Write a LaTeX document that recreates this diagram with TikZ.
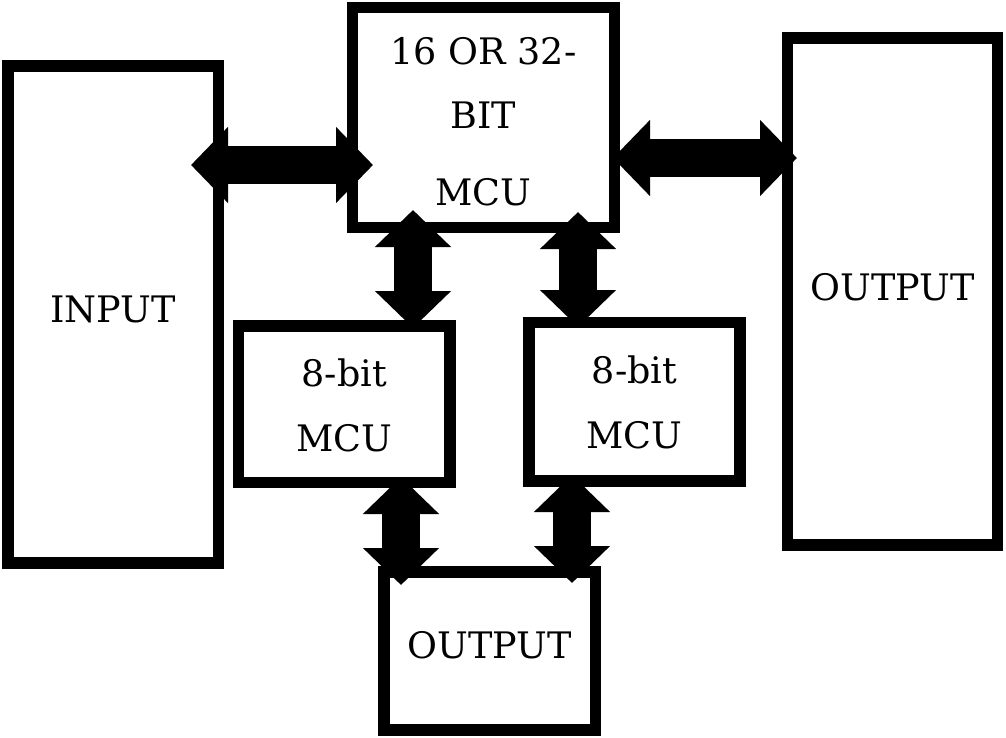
\documentclass[tikz,border=0pt]{standalone}
\usepackage{fontspec}
\setmainfont{DejaVu Serif}
\usetikzlibrary{arrows.meta}
\tikzset{
  blk/.style={draw=black, line width=11.5pt, rectangle, inner sep=0pt, outer sep=0pt,
    align=center, font=\fontsize{36.5}{65}\selectfont},
  bigarrow/.style={line width=38pt, draw=black,
    {Triangle[width=74pt,length=37pt]}-{Triangle[width=74pt,length=37pt]}}
}
\begin{document}
\begin{tikzpicture}[x=1pt,y=-1pt]
\useasboundingbox (0,0) rectangle (1006,738);
\node[blk, minimum width=210.5pt, minimum height=497pt, text height=30pt, text depth=15pt] (in) at (113.25,314.5) {INPUT};
\node[blk, minimum width=262pt, minimum height=220pt, text height=180pt, text depth=5pt,
  font=\fontsize{36.5}{63}\selectfont] (mcu) at (483.5,117.5) {16 OR 32-\\BIT\\[14pt]MCU};
\node[blk, minimum width=210pt, minimum height=507pt, text height=30pt, text depth=13pt] (outr) at (892.5,291.5) {OUTPUT};
\node[blk, minimum width=211.5pt, minimum height=156.5pt, text height=95pt, text depth=1.5pt] (m8l) at (344.25,404.25) {8-bit\\MCU};
\node[blk, minimum width=211pt, minimum height=158.5pt, text height=95pt, text depth=2.5pt] (m8r) at (634.5,401.75) {8-bit\\MCU};
\node[blk, minimum width=211.5pt, minimum height=158pt, text height=30pt, text depth=16pt] (outb) at (489.75,651) {OUTPUT};
% connectors
\draw[bigarrow] ([xshift=-27.5pt,yshift=149.5pt]in.east) -- ([xshift=20.5pt,yshift=-47.5pt]mcu.west);
\draw[bigarrow] ([xshift=-1.5pt,yshift=-40.5pt]mcu.east) -- ([xshift=9.5pt,yshift=133.5pt]outr.west);
\draw[bigarrow] ([xshift=-70.5pt,yshift=17.5pt]mcu.south) -- ([xshift=68.75pt,yshift=-2pt]m8l.north);
\draw[bigarrow] ([xshift=94.5pt,yshift=15.5pt]mcu.south) -- ([xshift=-56.5pt,yshift=-4.5pt]m8r.north);
\draw[bigarrow] ([xshift=56.75pt,yshift=5.5pt]m8l.south) -- ([xshift=-88.75pt,yshift=-13pt]outb.north);
\draw[bigarrow] ([xshift=-62.5pt,yshift=6pt]m8r.south) -- ([xshift=82.25pt,yshift=-11pt]outb.north);
\end{tikzpicture}
\end{document}
